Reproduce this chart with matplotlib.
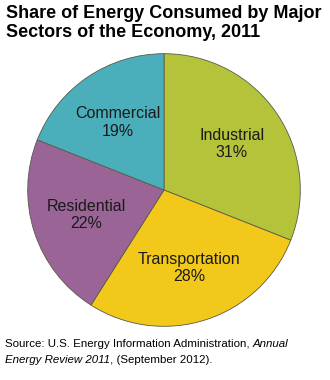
import matplotlib
matplotlib.use("Agg")
import matplotlib.pyplot as plt

plt.rcParams['font.family'] = ['Liberation Sans', 'DejaVu Sans']

sectors = ["Industrial", "Transportation", "Residential", "Commercial"]
shares = [31, 28, 22, 19]
colors = ["#b5c33a", "#f2c81a", "#9a6496", "#4aaebb"]

fig = plt.figure(figsize=(3.3, 3.8), dpi=100)
ax = fig.add_axes([27 / 330, 53 / 380, 274 / 330, 274 / 380])

labels = [f"{s}\n{v}%" for s, v in zip(sectors, shares)]
wedges, texts = ax.pie(shares, labels=labels, colors=colors, startangle=90,
                       counterclock=False, labeldistance=0.6,
                       wedgeprops=dict(edgecolor="#5a5a4a", linewidth=0.6))
for t in texts:
    t.set_ha("center")
    t.set_va("center")
    t.set_fontsize(11.5)
    t.set_color("#1a1a1a")
    t.set_linespacing(1.2)
ax.set_aspect("equal")
ax.set_xlim(-1.005, 1.005)
ax.set_ylim(-1.005, 1.005)

fig.text(6 / 330, 1 - 5 / 380, "Share of Energy Consumed by Major\nSectors of the Economy, 2011",
         ha="left", va="top", fontsize=13, fontweight="bold", linespacing=1.12)

# source line with italic pieces
fs = 8.25
t1 = fig.text(5 / 330, 1 - 347 / 380, "Source: U.S. Energy Information Administration, ",
              ha="left", va="baseline", fontsize=fs)
fig.canvas.draw()
t2 = fig.text(0, 0, "Annual", fontsize=fs, style="italic", va="baseline")
bb = t1.get_window_extent()
t2.set_position((bb.x1 / fig.bbox.width, t1.get_position()[1]))
t3 = fig.text(5 / 330, 1 - 363 / 380, "Energy Review 2011", ha="left", va="baseline",
              fontsize=fs, style="italic")
fig.canvas.draw()
bb3 = t3.get_window_extent()
fig.text(bb3.x1 / fig.bbox.width, t3.get_position()[1], ", (September 2012).",
         ha="left", va="baseline", fontsize=fs)

fig.savefig("out.png", dpi=100)
